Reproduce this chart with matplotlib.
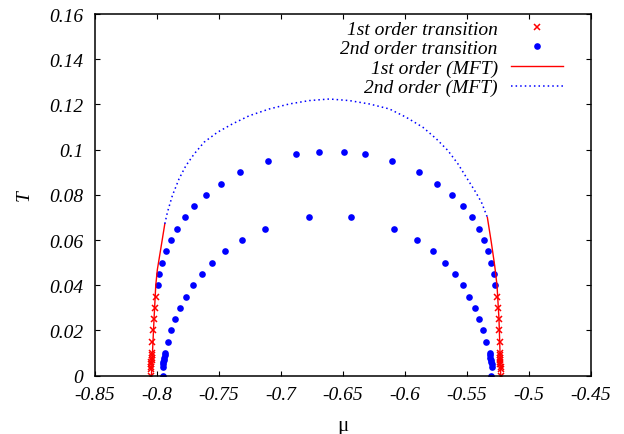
import matplotlib
matplotlib.use("Agg")
import matplotlib.pyplot as plt

# First-order transition points (crosses), left and right branches
mu_first_left = [-0.8047, -0.8046, -0.8046, -0.8045, -0.8045, -0.8044, -0.8044,
                 -0.8043, -0.8043, -0.8040, -0.8034, -0.8026, -0.8018, -0.8010]
T_first_left = [0.0, 0.003, 0.004, 0.005, 0.006, 0.007, 0.008,
                0.009, 0.010, 0.015, 0.020, 0.025, 0.030, 0.035]
mu_first_right = [-0.5228, -0.5229, -0.5229, -0.5230, -0.5230, -0.5231, -0.5231,
                  -0.5232, -0.5232, -0.5234, -0.5239, -0.5245, -0.5250, -0.5258]
T_first_right = T_first_left

# Second-order transition points (dots): inner dome
mu_second_inner = [-0.7954, -0.7954, -0.7951, -0.7948, -0.7945, -0.7942, -0.7939, -0.7935,
                   -0.7910, -0.7884, -0.7854, -0.7813, -0.7765, -0.7708, -0.7638,
                   -0.7556, -0.7450, -0.7315, -0.7132, -0.6774,
                   -0.6438, -0.6085, -0.5907, -0.5778, -0.5680, -0.5600,
                   -0.5536, -0.5482, -0.5439, -0.5404, -0.5374, -0.5347,
                   -0.5317, -0.5314, -0.5311, -0.5308, -0.5305, -0.5302, -0.5299, -0.5309]
T_second_inner = [0.0, 0.004, 0.005, 0.006, 0.007, 0.008, 0.009, 0.010,
                  0.015, 0.020, 0.025, 0.030, 0.035, 0.040, 0.045,
                  0.050, 0.055, 0.060, 0.065, 0.070,
                  0.070, 0.065, 0.060, 0.055, 0.050, 0.045,
                  0.040, 0.035, 0.030, 0.025, 0.020, 0.015,
                  0.010, 0.009, 0.008, 0.007, 0.006, 0.005, 0.004, 0.0]

# Second-order transition points (dots): outer dome
mu_second_outer = [-0.7994, -0.7981, -0.7956, -0.7927, -0.7886, -0.7838, -0.7773,
                   -0.7698, -0.7601, -0.7485, -0.7329, -0.7105, -0.6876, -0.6696,
                   -0.6494, -0.6325, -0.6103, -0.5889, -0.5741, -0.5625, -0.5536,
                   -0.5463, -0.5406, -0.5363, -0.5328, -0.5304, -0.5285, -0.5277]
T_second_outer = [0.040, 0.045, 0.050, 0.055, 0.060, 0.065, 0.070,
                  0.075, 0.080, 0.085, 0.090, 0.095, 0.098, 0.099,
                  0.099, 0.098, 0.095, 0.090, 0.085, 0.080, 0.075,
                  0.070, 0.065, 0.060, 0.055, 0.050, 0.045, 0.040]

# Mean-field first-order lines
mu_mft1_left = [-0.8045, -0.8024, -0.8010, -0.7997, -0.7970, -0.7937]
T_mft1_left = [0.0, 0.025, 0.040, 0.047, 0.056, 0.0672]
mu_mft1_right = [-0.5228, -0.5242, -0.5258, -0.5277, -0.5304, -0.5336]
T_mft1_right = [0.0, 0.025, 0.040, 0.0488, 0.059, 0.0701]

# Mean-field second-order line
mu_mft2 = [-0.7937, -0.7916, -0.7876, -0.7822, -0.7767, -0.7700, -0.7620, -0.7512,
           -0.7391, -0.7256, -0.7094, -0.6933, -0.6772, -0.6610, -0.6449,
           -0.6287, -0.6126, -0.5990, -0.5856, -0.5748, -0.5654, -0.5573,
           -0.5506, -0.5438, -0.5384, -0.5336]
T_mft2 = [0.0672, 0.0723, 0.0797, 0.0871, 0.0929, 0.0981, 0.1033, 0.1077,
          0.1114, 0.1150, 0.1180, 0.1202, 0.1217, 0.1224, 0.1217,
          0.1202, 0.1180, 0.1143, 0.1099, 0.1048, 0.0996, 0.0937,
          0.0878, 0.0819, 0.0768, 0.0701]

x_ticks = [-0.85, -0.8, -0.75, -0.7, -0.65, -0.6, -0.55, -0.5, -0.45]
x_tick_labels = ["-0.85", "-0.8", "-0.75", "-0.7", "-0.65", "-0.6", "-0.55", "-0.5", "-0.45"]
y_ticks = [0, 0.02, 0.04, 0.06, 0.08, 0.1, 0.12, 0.14, 0.16]
y_tick_labels = ["0", "0.02", "0.04", "0.06", "0.08", "0.1", "0.12", "0.14", "0.16"]

RED = "#ff0000"
BLUE = "#0000ff"
FS = 14
serif_it = dict(family="Liberation Serif", style="italic", size=FS)

fig = plt.figure(figsize=(6.24, 4.35), dpi=100)
ax = fig.add_axes([95 / 624, 1 - 376.7 / 435, 496 / 624, 361.7 / 435])

cross_kw = dict(linestyle="none", marker="x", color=RED, markersize=5, markeredgewidth=1.1)
dot_kw = dict(linestyle="none", marker="o", color=BLUE, markersize=4.8, markeredgewidth=0)

h1, = ax.plot(mu_first_left, T_first_left, label="1st order transition", **cross_kw)
ax.plot(mu_first_right, T_first_right, **cross_kw)
h2, = ax.plot(mu_second_inner, T_second_inner, label="2nd order transition", **dot_kw)
ax.plot(mu_second_outer, T_second_outer, **dot_kw)
h3, = ax.plot(mu_mft1_left, T_mft1_left, color=RED, lw=1.0, label="1st order (MFT)")
ax.plot(mu_mft1_right, T_mft1_right, color=RED, lw=1.0)
h4, = ax.plot(mu_mft2, T_mft2, color=BLUE, lw=1.1, linestyle=(0, (1, 2.0)),
              label="2nd order (MFT)")

ax.set_xlim(-0.85, -0.45)
ax.set_ylim(0, 0.16)
ax.set_xticks(x_ticks)
ax.set_xticklabels(x_tick_labels, fontdict=serif_it)
ax.set_yticks(y_ticks)
ax.set_yticklabels(y_tick_labels, fontdict=serif_it)
ax.tick_params(direction="in", length=3.8, width=0.8, top=True, right=True)
ax.tick_params(axis="x", pad=7.5)
ax.tick_params(axis="y", pad=8.5)
for s in ax.spines.values():
    s.set_linewidth(1.1)

ax.set_xlabel("μ", family="Liberation Serif", size=15, labelpad=9)
ax.set_ylabel("T", labelpad=12, **serif_it)

leg = fig.legend(handles=[h1, h2, h3, h4], loc="upper right",
                 bbox_to_anchor=(563 / 624, 1 - 21 / 435),
                 frameon=False, markerfirst=False, borderpad=0, borderaxespad=0,
                 handlelength=2.7, handletextpad=0.65, labelspacing=0.1,
                 prop=dict(family="Liberation Serif", style="italic", size=FS))

fig.savefig("out.png", dpi=100)
